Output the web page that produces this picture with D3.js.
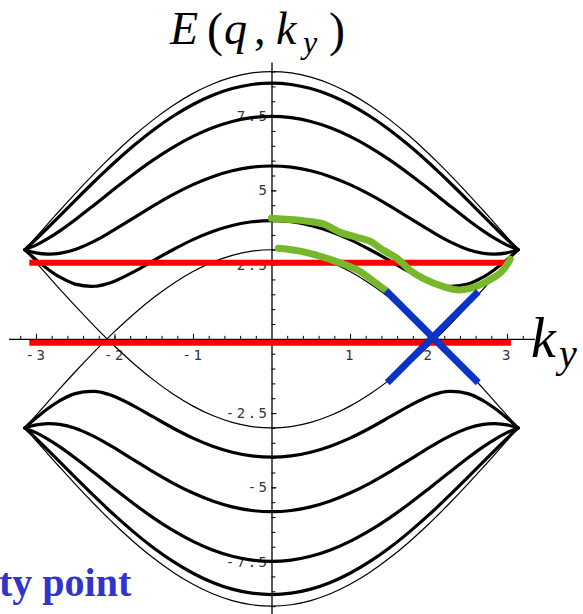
<!DOCTYPE html>
<html>
<head>
<meta charset="utf-8">
<script src="https://cdn.jsdelivr.net/npm/d3@7"></script>
<style>
  body { margin: 0; background: #fff; }
  svg { display: block; }
</style>
</head>
<body>
<svg id="chart" width="583" height="614"></svg>
<script>
// ky sample points (ky >= 0); the bands are even in ky and mirrored to ky < 0
const kyGrid = [0, 0.25, 0.5, 0.75, 1, 1.25, 1.5, 1.75, 2, 2.0944, 2.25, 2.5, 2.7, 2.85, 3, 3.1416];

// upper bands E(q, ky) for q = n·π/5, n = 0..5 (lower bands are -E)
const band0 = [9, 8.953, 8.813, 8.583, 8.265, 7.866, 7.390, 6.846, 6.242, 6.0, 5.587, 4.892, 4.314, 3.872, 3.424, 3];
const band1 = [8.610, 8.564, 8.427, 8.202, 7.892, 7.503, 7.042, 6.516, 5.937, 5.706, 5.315, 4.665, 4.136, 3.741, 3.353, 3];
const band2 = [7.492, 7.448, 7.320, 7.108, 6.818, 6.457, 6.034, 5.561, 5.052, 4.854, 4.527, 4.011, 3.628, 3.373, 3.157, 3];
const band3 = [5.820, 5.780, 5.658, 5.461, 5.193, 4.864, 4.487, 4.082, 3.674, 3.527, 3.301, 3.012, 2.879, 2.854, 2.897, 3];
const band4 = [3.984, 3.942, 3.818, 3.615, 3.342, 3.009, 2.639, 2.263, 1.942, 1.854, 1.771, 1.843, 2.085, 2.351, 2.668, 3];
const band5 = [3, 2.953, 2.813, 2.583, 2.265, 1.866, 1.390, 0.846, 0.242, 0, 0.413, 1.108, 1.686, 2.128, 2.576, 3];

const thinBands = [band0, band5];
const thickBands = [band1, band2, band3, band4];

// red Fermi-level lines: level, start ky, end ky
const redLevels = [2.56, -0.13];
const redStart = [-3.085, -3.085];
const redEnd = [3.01, 3.05];

// green hand-traced paths [ky, E]
const greenUpper = [[0, 4.06], [0.40, 3.98], [0.66, 3.87], [0.77, 3.73], [0.90, 3.56], [1.09, 3.42], [1.26, 3.28],
  [1.42, 2.99], [1.60, 2.71], [1.76, 2.32], [1.93, 2.04], [2.19, 1.76], [2.36, 1.65], [2.53, 1.70],
  [2.74, 1.93], [2.91, 2.21], [3.01, 2.54], [3.04, 2.68]];
const greenLower = [[0.087, 3.05], [0.41, 2.93], [0.83, 2.60], [1.09, 2.32], [1.25, 2.04], [1.38, 1.78], [1.45, 1.65]];

// blue Dirac-cone segments [[ky1, E1], [ky2, E2]]
const blueA = [[1.459, 1.62], [2.634, -1.48]];
const blueB = [[2.634, 1.59], [1.475, -1.48]];

// axis ticks and labels
const xMajor = [-3, -2, -1, 1, 2, 3];
const xLabels = ["-3", "-2", "-1", "1", "2", "3"];
const yMajor = [-7.5, -5, -2.5, 2.5, 5, 7.5];
const yLabels = ["-7.5", "-5", "-2.5", "2.5", "5", "7.5"];

const svg = d3.select("#chart");
const x = d3.scaleLinear().domain([-3.35, 3.35]).range([8.5, 534.5]);
const y = d3.scaleLinear().domain([-9.32, 9.32]).range([615.65, 62.05]);

const xMinor = d3.range(-16, 17).map(i => i * 0.2).filter(v => Math.abs(v) > 1e-9);
const yMinor = d3.range(-18, 19).map(i => i * 0.5).filter(v => Math.abs(v) > 1e-9);

// ---- axes ----
const axisFont = "'DejaVu Sans Mono', monospace";

svg.append("g").attr("transform", `translate(0,${y(0)})`)
  .call(d3.axisBottom(x).tickValues(xMinor).tickSizeInner(-3).tickSizeOuter(0).tickFormat(""));
const gxMajor = svg.append("g").attr("transform", `translate(0,${y(0)})`)
  .call(d3.axisBottom(x).tickValues(xMajor).tickSizeInner(-5).tickSizeOuter(0).tickPadding(11)
    .tickFormat((d, i) => xLabels[i]));
gxMajor.select(".domain").remove();

svg.append("g").attr("transform", `translate(${x(0)},0)`)
  .call(d3.axisLeft(y).tickValues(yMinor).tickSizeInner(-4).tickSizeOuter(0).tickFormat(""));
const gyMajor = svg.append("g").attr("transform", `translate(${x(0)},0)`)
  .call(d3.axisLeft(y).tickValues(yMajor).tickSizeInner(-5).tickSizeOuter(0).tickPadding(2)
    .tickFormat((d, i) => yLabels[i]));
gyMajor.select(".domain").remove();

svg.selectAll(".domain").attr("stroke", "#000").attr("stroke-width", 1.3);
svg.selectAll(".tick line").attr("stroke", "#000").attr("stroke-width", 1);
svg.selectAll(".tick text")
  .attr("font-family", axisFont).attr("font-size", 14)
  .attr("letter-spacing", 2.5).attr("fill", "#333");

// ---- bands ----
const line = d3.line().x(d => x(d[0])).y(d => y(d[1])).curve(d3.curveCatmullRom.alpha(0.5));

function bandPoints(vals, sign) {
  const pts = [];
  for (let i = kyGrid.length - 1; i > 0; i--) pts.push([-kyGrid[i], sign * vals[i]]);
  for (let i = 0; i < kyGrid.length; i++) pts.push([kyGrid[i], sign * vals[i]]);
  // split at the zero crossings so the cone tips stay sharp
  const segs = [[]];
  pts.forEach(p => {
    segs[segs.length - 1].push(p);
    if (p[1] === 0) segs.push([p]);
  });
  return segs.filter(s => s.length > 1);
}

const curves = svg.append("g").attr("fill", "none").attr("stroke", "#000")
  .attr("stroke-linejoin", "round").attr("stroke-linecap", "round");
[1, -1].forEach(sign => {
  thinBands.forEach(b => bandPoints(b, sign).forEach(seg =>
    curves.append("path").attr("d", line(seg)).attr("stroke-width", 1.2)));
  thickBands.forEach(b => bandPoints(b, sign).forEach(seg =>
    curves.append("path").attr("d", line(seg)).attr("stroke-width", 3.2)));
});

// ---- annotations ----
redLevels.forEach((lv, i) => {
  svg.append("line")
    .attr("x1", x(redStart[i])).attr("x2", x(redEnd[i]))
    .attr("y1", y(lv)).attr("y2", y(lv))
    .attr("stroke", "#ff0000").attr("stroke-width", 6);
});

const greenLine = d3.line().x(d => x(d[0])).y(d => y(d[1])).curve(d3.curveCatmullRom.alpha(0.5));
[greenUpper, greenLower].forEach(g => {
  svg.append("path").attr("d", greenLine(g)).attr("fill", "none")
    .attr("stroke", "#76b82a").attr("stroke-width", 7)
    .attr("stroke-linecap", "round").attr("stroke-linejoin", "round");
});

[blueA, blueB].forEach(b => {
  svg.append("line")
    .attr("x1", x(b[0][0])).attr("y1", y(b[0][1]))
    .attr("x2", x(b[1][0])).attr("y2", y(b[1][1]))
    .attr("stroke", "#0b33c4").attr("stroke-width", 7);
});

// ---- title E(q, k_y) ----
const serif = "'Liberation Serif', 'Times New Roman', serif";
const titleParts = [
  { t: "E", x: 170, italic: true, size: 46, base: 44 },
  { t: "(", x: 207, italic: false, size: 48, base: 46 },
  { t: "q", x: 224, italic: true, size: 46, base: 44 },
  { t: ",", x: 254, italic: false, size: 46, base: 44 },
  { t: "k", x: 276, italic: true, size: 46, base: 44 },
  { t: "y", x: 303, italic: true, size: 32, base: 53 },
  { t: ")", x: 329, italic: false, size: 48, base: 46 }
];
titleParts.forEach(p => {
  svg.append("text").text(p.t)
    .attr("x", p.x).attr("y", p.base)
    .attr("font-family", serif).attr("font-size", p.size)
    .attr("font-style", p.italic ? "italic" : "normal")
    .attr("fill", "#000");
});

// ---- axis label k_y ----
svg.append("text").text("k").attr("x", 531).attr("y", 357)
  .attr("font-family", serif).attr("font-size", 56).attr("font-style", "italic");
svg.append("text").text("y").attr("x", 559).attr("y", 367)
  .attr("font-family", serif).attr("font-size", 40).attr("font-style", "italic");

// ---- caption ----
svg.append("text").text("ty point").attr("x", -1).attr("y", 596)
  .attr("font-family", serif).attr("font-size", 40).attr("font-weight", "bold")
  .attr("fill", "#3333cc");
</script>
</body>
</html>
